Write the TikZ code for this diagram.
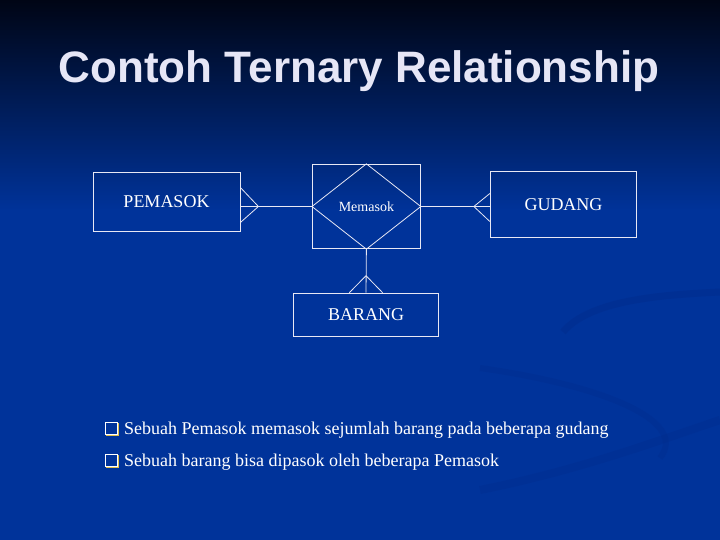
\documentclass[tikz,border=0pt]{standalone}
\usepackage{fontspec}
\setmainfont{Liberation Serif}
\setsansfont{Liberation Sans}
\usetikzlibrary{positioning,calc}
\definecolor{bgdark}{HTML}{000515}
\definecolor{bgblue}{HTML}{00339A}
\definecolor{swoosh}{HTML}{002C8C}
\definecolor{inkwhite}{HTML}{E8E8F4}
\definecolor{titleink}{HTML}{E6E6F6}
\definecolor{bulletgold}{HTML}{E0C050}

\begin{document}
\begin{tikzpicture}[x=1pt,y=-1pt,
    entity/.style={draw=inkwhite,line width=0.8pt,minimum width=#1,text=white,
                   font=\fontsize{18}{20}\selectfont},
    entity/.default=146pt,
    link/.style={draw=inkwhite,line width=0.8pt},
    item/.style={anchor=base west,text=white,inner sep=0pt,
                 font=\fontsize{18}{20}\selectfont}]
   \useasboundingbox (0,0) rectangle (720,540);
   % background
   \shade[top color=bgdark,middle color=bgblue!62!bgdark,bottom color=bgblue]
        (0,0) rectangle (720,211);
   \fill[bgblue] (0,210) rectangle (720,540);
   \draw[swoosh,line width=7pt,opacity=0.45] (563,332) .. controls (590,300) and (660,295) .. (720,292);
   \draw[swoosh,line width=6pt,opacity=0.35] (480,368) .. controls (600,385) and (690,420) .. (660,458);
   \draw[swoosh,line width=8pt,opacity=0.35] (480,490) .. controls (580,470) and (660,440) .. (720,420);

   % title
   \node[anchor=base,text=titleink,font=\fontsize{44}{48}\selectfont\sffamily\bfseries]
        (title) at (359,83) {Contoh Ternary Relationship};

   % entities and relationship
   \node[entity=147pt,minimum height=59pt] (pemasok) at (166.5,201.5) {PEMASOK};
   \node[draw=inkwhite,line width=0.8pt,minimum width=108pt,minimum height=84.5pt,
         text=white,font=\fontsize{14}{16}\selectfont] (memasok) at (366.4,206.5) {Memasok};
   \node[entity=146.5pt,minimum height=65.6pt] (gudang) at (563.5,204.5) {GUDANG};
   \node[entity=145pt,minimum height=43pt] (barang) at (366,314.6) {BARANG};

   \draw[link] (memasok.north) -- (memasok.east) -- (memasok.south)
               -- (memasok.west) -- cycle;

   % connectors with crow's feet
   \coordinate (pfoot) at ($(pemasok.east |- memasok.west)+(18,0)$);
   \coordinate (gfoot) at ($(gudang.west |- memasok.east)+(-16,0)$);
   \coordinate (bfoot) at ($(barang.north)+(0,-17)$);
   \draw[link] (pemasok.east |- memasok.west) -- (memasok.west);
   \draw[link] (pfoot) -- ($(pemasok.east |- pfoot)+(0,-19)$)
               (pfoot) -- ($(pemasok.east |- pfoot)+(0,16)$);
   \draw[link] (memasok.east) -- (gudang.west |- memasok.east);
   \draw[link] (gfoot) -- ($(gudang.west |- gfoot)+(0,-13)$)
               (gfoot) -- ($(gudang.west |- gfoot)+(0,15)$);
   \draw[link] (memasok.south) -- (barang.north);
   \draw[link] (bfoot) -- ($(barang.north)+(-16.7,0)$)
               (bfoot) -- ($(barang.north)+(16.6,0)$);

   % bullets
   \foreach \y/\txt [count=\i] in {434/{Sebuah Pemasok memasok sejumlah barang pada beberapa gudang},
                                   466/{Sebuah barang bisa dipasok oleh beberapa Pemasok}} {
     \draw[bulletgold,line width=1.4pt] (106.5,\y-10.5) rectangle (118.5,\y+1.5);
     \draw[white,line width=0.8pt,fill=bgblue] (105,\y-12) rectangle (117,\y);
     \node[item] (point\i) at (124,\y) {\txt};
   }
\end{tikzpicture}
\end{document}
